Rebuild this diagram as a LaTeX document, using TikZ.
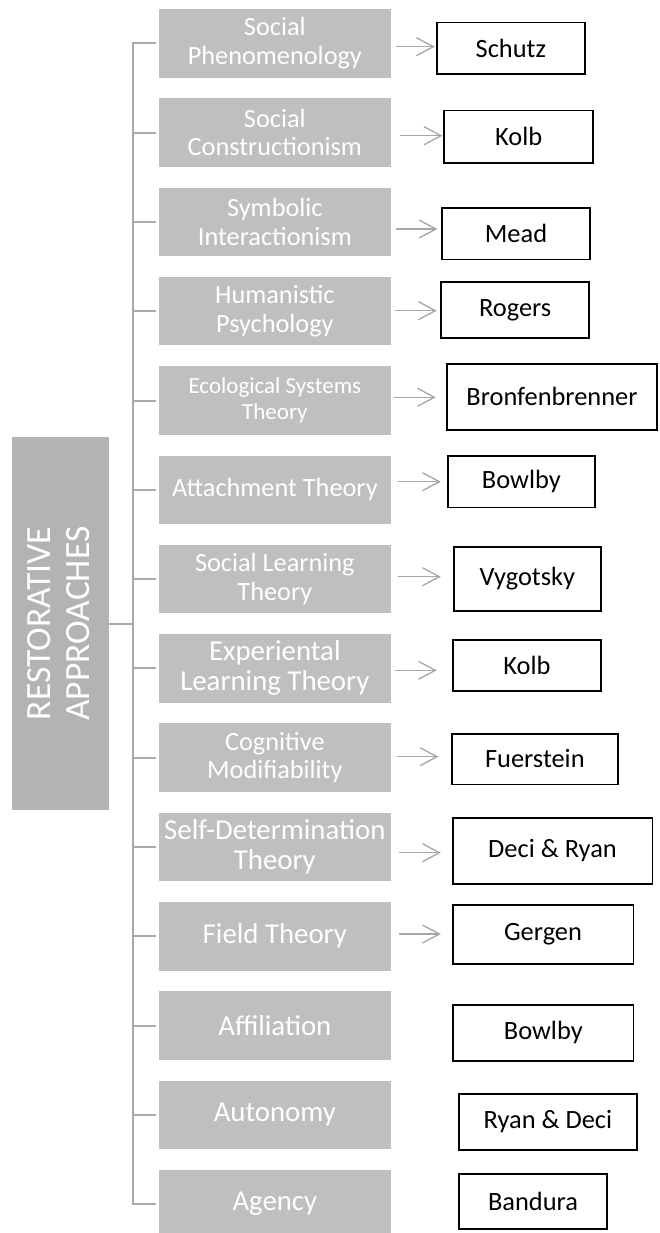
\documentclass[tikz,border=0pt]{standalone}
\usepackage{fontspec}
\setmainfont{Carlito}
\usetikzlibrary{arrows.meta}
\definecolor{catgray}{HTML}{BFBFBF}
\definecolor{rootgray}{HTML}{B3B3B3}
\definecolor{linegray}{HTML}{A9A9A9}
\definecolor{arrowgray}{HTML}{A6A6A6}
\newcommand{\fsA}{\fontsize{26.3}{28.4}\selectfont}
\newcommand{\fsB}{\fontsize{28.8}{30}\selectfont}
\newcommand{\fsC}{\fontsize{23}{25.7}\selectfont}
\newcommand{\fsR}{\fontsize{26.4}{30}\selectfont}
\newcommand{\fsRoot}{\fontsize{35.5}{38.5}\selectfont}

\begin{document}
\begin{tikzpicture}[x=1pt,y=-1pt,
  cat/.style={fill=catgray, text=white, minimum width=232.3pt, minimum height=68.5pt,
              inner sep=0pt, align=center, font=\fsA},
  catbig/.style={cat, font=\fsB},
  catsmall/.style={cat, font=\fsC},
  author/.style={draw=black, line width=1.8pt, fill=white, inner sep=0pt, font=\fsR},
  tree/.style={draw=linegray, line width=2pt},
  arr/.style={draw=arrowgray, line width=1.3pt, -{Straight Barb[length=17pt,width=18pt]}},
]
\useasboundingbox (0,0) rectangle (660,1233);

% root box with rotated title
\node[fill=rootgray, minimum width=97pt, minimum height=372.7pt, inner sep=0pt] (root) at (60.5,623.65) {};
\node[rotate=90, text=white, align=center, font=\fsRoot, inner sep=0pt] (rootlabel) at ([xshift=-2pt]root.center) {RESTORATIVE\\APPROACHES};

% theory boxes
\node[cat]      (g1)  at (274.85,43.3)   {Social\\Phenomenology};
\node[cat]      (g2)  at (274.85,132.6)  {Social\\Constructionism};
\node[cat]      (g3)  at (274.85,221.9)  {Symbolic\\Interactionism};
\node[cat]      (g4)  at (274.85,311.2)  {Humanistic\\Psychology};
\node[catsmall] (g5)  at (274.85,400.5)  {Ecological Systems\\Theory};
\node[cat]      (g6)  at (274.85,489.8)  {Attachment Theory};
\node[cat]      (g7)  at (274.85,579.1)  {Social Learning\\Theory};
\node[catbig]   (g8)  at (274.85,668.4)  {Experiental\\Learning Theory};
\node[cat]      (g9)  at (274.85,757.7)  {Cognitive\\Modifiability};
\node[catbig]   (g10) at (274.85,847.0)  {Self-Determination\\Theory};
\node[catbig]   (g11) at (274.85,936.3)  {Field Theory};
\node[catbig]   (g12) at (274.85,1025.6) {Affiliation};
\node[catbig]   (g13) at (274.85,1114.9) {Autonomy};
\node[catbig]   (g14) at (274.85,1204.2) {Agency};

% author boxes
\node[author, minimum width=148.4pt, minimum height=51.2pt] (r1)  at (510.8,48.2)    {Schutz};
\node[author, minimum width=148.9pt, minimum height=52.5pt] (r2)  at (518.65,136.85) {Kolb};
\node[author, minimum width=147.6pt, minimum height=51.2pt] (r3)  at (516,233.8)     {Mead};
\node[author, minimum width=147.9pt, minimum height=55.6pt] (r4)  at (515.15,310)    {Rogers};
\node[author, minimum width=210.2pt, minimum height=66.5pt] (r5)  at (552,396.85)    {Bronfenbrenner};
\node[author, minimum width=147.5pt, minimum height=51.5pt] (r6)  at (521.35,481.65) {Bowlby};
\node[author, minimum width=147.5pt, minimum height=63.9pt] (r7)  at (527.35,578.85) {Vygotsky};
\node[author, minimum width=147.6pt, minimum height=51.2pt] (r8)  at (527,665.5)     {Kolb};
\node[author, minimum width=166.5pt, minimum height=50.8pt] (r9)  at (534.85,759)    {Fuerstein};
\node[author, minimum width=199.8pt, minimum height=66.2pt] (r10) at (552.5,850.7)   {Deci \& Ryan};
\node[author, minimum width=180.8pt, minimum height=58.6pt] (r11) at (543,934.5)     {Gergen};
\node[author, minimum width=180.2pt, minimum height=55.9pt] (r12) at (543.3,1032.85) {Bowlby};
\node[author, minimum width=177.7pt, minimum height=55.6pt] (r13) at (547.95,1122)   {Ryan \& Deci};
\node[author, minimum width=147.9pt, minimum height=55.5pt] (r14) at (533.05,1201.35) {Bandura};

% tree connectors
\coordinate (sp) at (133.3,0);
\draw[tree] ([xshift=-2.7pt]g1.west) -- (g1.west -| sp) -- (g14.west -| sp) -- ([xshift=-2.7pt]g14.west);
\foreach \i in {2,...,13} {
  \draw[tree] (g\i.west -| sp) -- ([xshift=-2.7pt]g\i.west);
}
\draw[tree] (root.east) -- (root.east -| sp);

% arrows from theories to authors
\foreach \i/\sx/\dy/\gap in {1/4.5/-3.4/0.9, 2/8.7/-3.1/0.9, 3/4.7/-7.1/3.9, 4/4/0.5/3.5,
    5/3/3.2/10.2, 6/6.3/8.1/5.9, 7/6.3/2.4/11.9, 8/3.7/-1.9/15.5, 9/5.7/1.0/12.3,
    10/7.7/-5.7/10.9, 11/7.7/2.3/10.9} {
  \coordinate (s\i) at ([xshift=\sx pt,yshift=\dy pt]g\i.east);
  \coordinate (t\i) at (s\i -| r\i.west);
  \draw[arr] (s\i) -- ([xshift=-\gap pt]t\i);
}
\end{tikzpicture}
\end{document}
